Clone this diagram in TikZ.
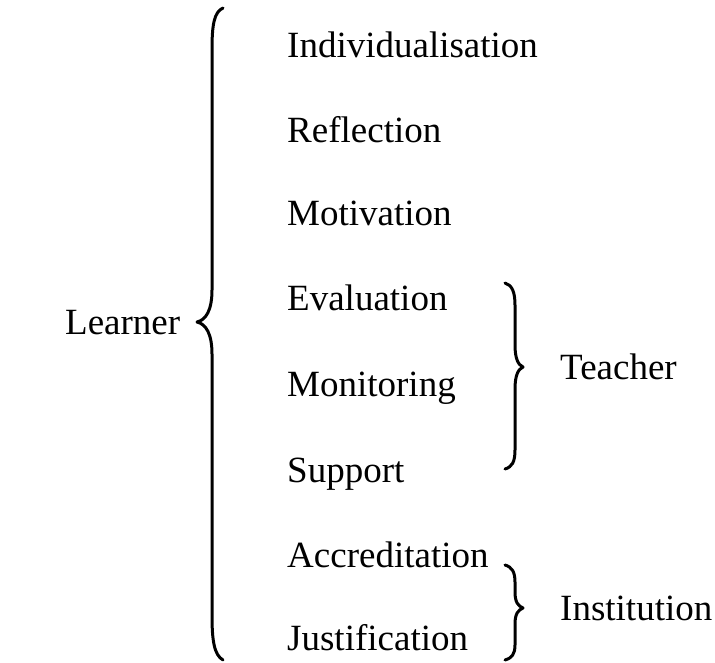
\documentclass[tikz,border=0pt]{standalone}
\usepackage{fontspec}
\setmainfont{Liberation Serif}
\begin{document}
\begin{tikzpicture}[x=1pt,y=-1pt,
  lbl/.style={font=\fontsize{37}{40}\selectfont, inner sep=0pt, anchor=base west},
  brace/.style={line width=3pt, line cap=round, line join=round}]
\useasboundingbox (0,0) rectangle (715,662);
\node[lbl] (learner) at (65,334) {Learner};
\node[lbl] (ind) at (287,57) {Individualisation};
\node[lbl] (ref) at (287,142) {Reflection};
\node[lbl] (mot) at (287,225) {Motivation};
\node[lbl] (eva) at (287,310) {Evaluation};
\node[lbl] (mon) at (287,396) {Monitoring};
\node[lbl] (sup) at (287,482) {Support};
\node[lbl] (acc) at (287,567) {Accreditation};
\node[lbl] (jus) at (287,650) {Justification};
\node[lbl] (teacher) at (560,379) {Teacher};
\node[lbl] (inst) at (560,620) {Institution};
% main brace
\draw[brace] (223,8) .. controls (214,12) and (212,25) .. (212,50) -- (212,290)
  .. controls (212,310) and (206,320) .. (197,322)
  .. controls (206,324) and (212,334) .. (212,354) -- (212,615)
  .. controls (212,640) and (214,655) .. (223,660);
% teacher brace
\draw[brace] (505,283) .. controls (512,285) and (515,292) .. (515,305) -- (515,345)
  .. controls (515,358) and (518,365) .. (523,367)
  .. controls (518,369) and (515,376) .. (515,389) -- (515,450)
  .. controls (515,462) and (512,467) .. (505,469);
% institution brace
\draw[brace] (505,565) .. controls (512,567) and (515,572) .. (515,582) -- (515,592)
  .. controls (515,602) and (518,606) .. (523,608)
  .. controls (518,610) and (515,614) .. (515,624) -- (515,645)
  .. controls (515,654) and (512,658) .. (505,660);
\end{tikzpicture}
\end{document}
